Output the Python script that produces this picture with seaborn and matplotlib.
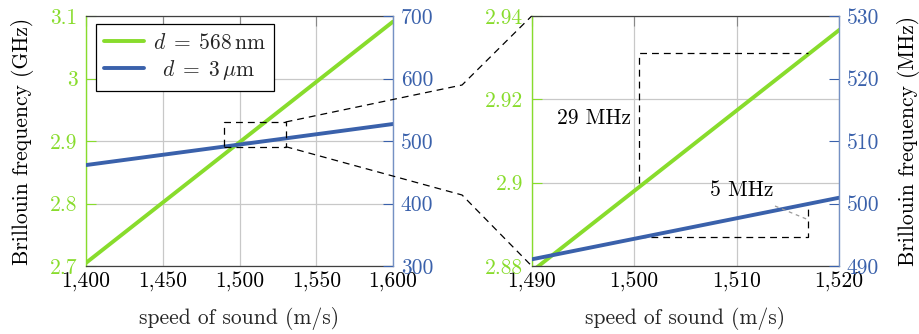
import numpy as np
import pandas as pd
import matplotlib
matplotlib.use("Agg")
import matplotlib.pyplot as plt
import seaborn as sns
from matplotlib.lines import Line2D
from matplotlib.patches import Rectangle
from matplotlib.ticker import FuncFormatter, FixedLocator

# ---------------- data ----------------
speed = [1400, 1600]                 # m/s
freq_568nm_ghz = [2.705, 3.091]      # GHz (green, left axis)
freq_3um_mhz = [461.5, 527.2]        # MHz (blue, right axis)

left_xticks = [1400, 1450, 1500, 1550, 1600]
left_ghz_ticks = [2.7, 2.8, 2.9, 3.0, 3.1]
left_mhz_ticks = [300, 400, 500, 600, 700]
zoom_xticks = [1490, 1500, 1510, 1520]
zoom_ghz_ticks = [2.88, 2.90, 2.92, 2.94]
zoom_mhz_ticks = [490, 500, 510, 520, 530]

legend_labels = [r"$d\;=\;568\,\mathrm{nm}$", r"$\enspace d\;=\;3\,\mu\mathrm{m}$"]
xlabel = "speed of sound (m/s)"
ylabel_ghz = "Brillouin frequency (GHz)"
ylabel_mhz = "Brillouin frequency (MHz)"

# zoom-window marker on the left panel (GHz coordinates)
zoom_box_x = [1490, 1530]
zoom_box_ghz = [2.891, 2.9304]
bend_x = 1645
bend_ghz = [2.9896, 2.8136]

# step annotations in the zoom panel
step_x = [1500.5, 1517.0]
green_step_ghz = [2.8998, 2.9312]
blue_step_mhz = [494.6, 499.4]
label_29 = "29 MHz"
label_29_pos = (1499.7, 2.9154)
label_5 = "5 MHz"
label_5_pos = (1510.5, 502.05)
leader_x = [1513.75, 1516.85]
leader_mhz = [499.6, 497.5]

df = pd.DataFrame({"speed": speed, "ghz": freq_568nm_ghz, "mhz": freq_3um_mhz})

# ---------------- style ----------------
sns.set_style("white")
plt.rcParams.update({
    "font.family": ["cmr10"],
    "mathtext.fontset": "cm",
    "axes.formatter.use_mathtext": True,
    "font.size": 15.5,
})

GREEN = "#88dc2c"
BLUE = "#3a61ab"
BLUE_SPINE = "#7591c4"
GRID = "#c8c8c8"
DARK = "#404040"
DASH = (0, (5.5, 4))

W, H = 919, 334
fig = plt.figure(figsize=(W / 100, H / 100), dpi=100)
axL = fig.add_axes([86 / W, 68 / H, 307 / W, 250 / H])
axR = fig.add_axes([531.7 / W, 68 / H, 307.3 / W, 250 / H])

xfmt = FuncFormatter(lambda v, p: f"{v:,.0f}")
gfmt = FuncFormatter(lambda v, p: f"{v:g}")


def make_panel(ax, xlim, xticks, glim, gticks, mlim, mticks):
    sns.lineplot(data=df, x="speed", y="ghz", ax=ax, color=GREEN, lw=2.8, legend=False)
    ax2 = ax.twinx()
    sns.lineplot(data=df, x="speed", y="mhz", ax=ax2, color=BLUE, lw=2.8, legend=False)
    ax.set_xlim(*xlim)
    ax.set_ylim(*glim)
    ax2.set_ylim(*mlim)
    ax.xaxis.set_major_locator(FixedLocator(xticks))
    ax.yaxis.set_major_locator(FixedLocator(gticks))
    ax2.yaxis.set_major_locator(FixedLocator(mticks))
    ax.xaxis.set_major_formatter(xfmt)
    ax.yaxis.set_major_formatter(gfmt)
    ax2.yaxis.set_major_formatter(gfmt)
    ax.set_xlabel("")
    ax.set_ylabel("")
    ax2.set_ylabel("")
    ax.grid(True, color=GRID, lw=0.9)
    ax.set_axisbelow(True)
    ax2.grid(False)
    ax.tick_params(axis="x", direction="in", length=7, width=0.8, color="#888888",
                   top=True, pad=4, labelcolor="black")
    ax.tick_params(axis="y", direction="in", length=7, width=0.8, color=GREEN,
                   labelcolor=GREEN, pad=6.2, left=True, right=False)
    ax2.tick_params(axis="y", direction="in", length=7, width=0.8, color=BLUE,
                    labelcolor=BLUE, pad=5.5, right=True, left=False)
    for s in ("top", "bottom"):
        ax.spines[s].set_color(DARK)
        ax.spines[s].set_linewidth(0.9)
        ax2.spines[s].set_visible(False)
    ax.spines["left"].set_color(GREEN)
    ax.spines["left"].set_linewidth(1.0)
    ax.spines["right"].set_visible(False)
    ax2.spines["left"].set_visible(False)
    ax2.spines["right"].set_color(BLUE_SPINE)
    ax2.spines["right"].set_linewidth(1.0)
    ax.set_xlabel(xlabel, fontsize=15.5)
    ax.xaxis.set_label_coords(0.5, -0.165)
    return ax2


axL2 = make_panel(axL, (1400, 1600), left_xticks, (2.7, 3.1), left_ghz_ticks,
                  (300, 700), left_mhz_ticks)
axR2 = make_panel(axR, (1490, 1520), zoom_xticks, (2.88, 2.94), zoom_ghz_ticks,
                  (490, 530), zoom_mhz_ticks)

axL.set_ylabel(ylabel_ghz, color="black", fontsize=15.5)
axL.yaxis.set_label_coords(-0.17, 0.5)
axR2.set_ylabel(ylabel_mhz, color="black", fontsize=15.5)
axR2.yaxis.set_label_coords(1.19, 0.5)

# legend
handles = [axL.lines[0], axL2.lines[0]]
leg = axL2.legend(handles, legend_labels, loc="upper left",
                  bbox_to_anchor=(0.0316, 0.968), borderaxespad=0,
                  frameon=True, fancybox=False, framealpha=1,
                  edgecolor="black", handlelength=1.85, handletextpad=0.4,
                  labelspacing=0.25, borderpad=0.4, fontsize=15.5)
leg.get_frame().set_linewidth(0.9)

# zoom-window rectangle on left panel
rect = Rectangle((zoom_box_x[0], zoom_box_ghz[0]), zoom_box_x[1] - zoom_box_x[0],
                 zoom_box_ghz[1] - zoom_box_ghz[0], transform=axL.transData,
                 fill=False, ec="black", lw=0.9, ls=DASH, zorder=5)
axL2.add_patch(rect)

# connectors (figure level)
inv = fig.transFigure.inverted()


def to_fig(ax, x, y):
    return inv.transform(ax.transData.transform((x, y)))


for y_corner, y_bend, y_target in [(zoom_box_ghz[1], bend_ghz[0], 2.94),
                                   (zoom_box_ghz[0], bend_ghz[1], 2.88)]:
    p0 = to_fig(axL, zoom_box_x[1], y_corner)
    p1 = to_fig(axL, bend_x, y_bend)
    p2 = to_fig(axR, 1490, y_target)
    fig.add_artist(Line2D([p0[0], p1[0], p2[0]], [p0[1], p1[1], p2[1]],
                          transform=fig.transFigure, color="black", lw=0.9,
                          ls=DASH, clip_on=False))

# step annotations on zoom panel
axR.plot([step_x[0], step_x[0], step_x[1]],
         [green_step_ghz[0], green_step_ghz[1], green_step_ghz[1]],
         color="black", lw=0.9, ls=DASH, zorder=4)
axR2.plot([step_x[0], step_x[1], step_x[1]],
          [blue_step_mhz[0], blue_step_mhz[0], blue_step_mhz[1]],
          color="black", lw=0.9, ls=DASH, zorder=1)
axR.text(label_29_pos[0], label_29_pos[1], label_29, ha="right", va="center",
         fontsize=15.5, color="black")
axR2.text(label_5_pos[0], label_5_pos[1], label_5, ha="center", va="center",
          fontsize=15.5, color="black")
axR2.plot(leader_x, leader_mhz, color="#9a9a9a", lw=0.9, ls=(0, (3, 3)))

fig.savefig("out.png", dpi=100)
